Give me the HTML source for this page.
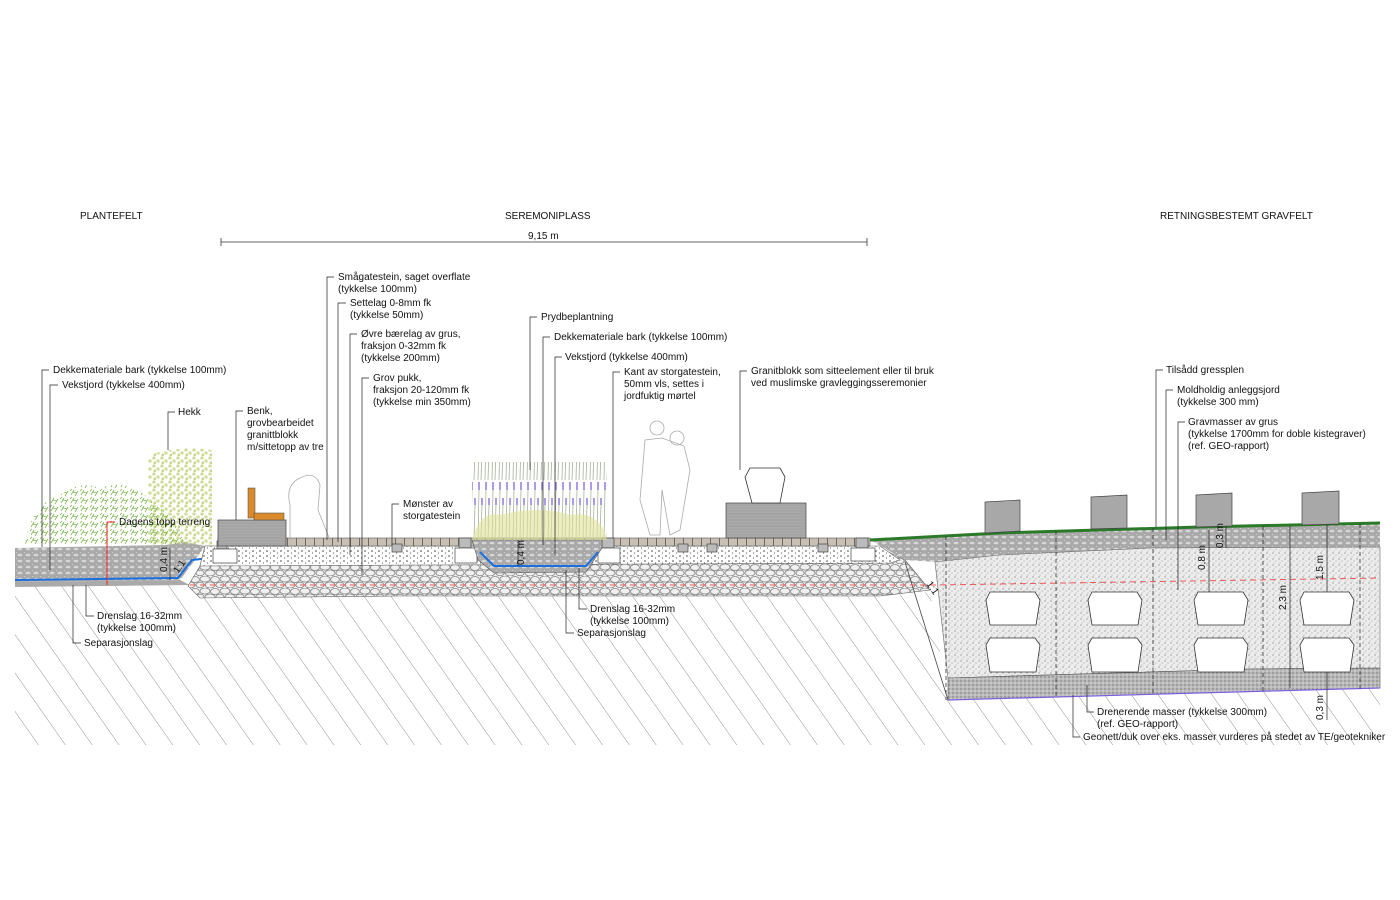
<!DOCTYPE html>
<html><head><meta charset="utf-8"><style>
html,body{margin:0;padding:0;background:#fff}
svg{display:block}
text{font-family:"Liberation Sans",Arial,sans-serif;font-size:10px;fill:#111}
</style></head><body>
<svg width="1400" height="900" viewBox="0 0 1400 900" xmlns="http://www.w3.org/2000/svg">
<defs>
<pattern id="hatch" width="22" height="22" patternUnits="userSpaceOnUse" patternTransform="rotate(-35)">
<line x1="0" y1="0" x2="0" y2="22" stroke="#777" stroke-width="0.8"/></pattern>
<pattern id="soil" width="8" height="6" patternUnits="userSpaceOnUse">
<rect width="8" height="6" fill="#a9a9a9"/><ellipse cx="4" cy="3" rx="2.5" ry="1.3" fill="#d6d6d6"/><circle cx="0" cy="0" r="1" fill="#ddd"/></pattern>
<pattern id="stip" width="6" height="6" patternUnits="userSpaceOnUse">
<rect width="6" height="6" fill="#ececec"/><circle cx="1" cy="1" r=".6" fill="#777"/><circle cx="4" cy="3" r=".5" fill="#888"/><circle cx="2" cy="5" r=".5" fill="#999"/></pattern>
<pattern id="grav" width="7" height="5" patternUnits="userSpaceOnUse">
<rect width="7" height="5" fill="#fff"/><circle cx="1" cy="1" r=".8" fill="#444"/><circle cx="4.5" cy="3" r=".6" fill="#666"/></pattern>
<pattern id="cob" width="20" height="12" patternUnits="userSpaceOnUse">
<rect width="20" height="12" fill="#f0f0f0"/><ellipse cx="5" cy="3" rx="5" ry="3" fill="none" stroke="#888" stroke-width=".8"/><ellipse cx="15" cy="3.5" rx="4.5" ry="3" fill="none" stroke="#888" stroke-width=".8"/><ellipse cx="10" cy="9" rx="5" ry="3" fill="none" stroke="#888" stroke-width=".8"/><ellipse cx="0" cy="9" rx="4" ry="2.8" fill="none" stroke="#888" stroke-width=".8"/><ellipse cx="20" cy="9" rx="4" ry="2.8" fill="none" stroke="#888" stroke-width=".8"/></pattern>
<pattern id="drain" width="4" height="4" patternUnits="userSpaceOnUse">
<rect width="4" height="4" fill="#b8b8b8"/><circle cx="1" cy="1" r=".7" fill="#777"/><circle cx="3" cy="3" r=".6" fill="#eee"/></pattern>
<pattern id="pave" width="9" height="8" patternUnits="userSpaceOnUse">
<rect width="9" height="8" fill="#c9c0b4"/><line x1="8.5" y1="0" x2="8.5" y2="8" stroke="#555" stroke-width=".8"/></pattern>
<pattern id="granite" width="6" height="3" patternUnits="userSpaceOnUse">
<rect width="6" height="3" fill="#aaa"/><line x1="0" y1="1" x2="6" y2="1" stroke="#999" stroke-width=".6"/></pattern>
<pattern id="leaf" width="10" height="8" patternUnits="userSpaceOnUse">
<path d="M1 7 L4 2 M5 8 L8 3 M3 4 L7 5 M0 3 L2 1" stroke="#7db84f" stroke-width=".8" fill="none"/></pattern>
<pattern id="hedge" width="8" height="8" patternUnits="userSpaceOnUse">
<path d="M1 1 h2 v2 h-2z M5 4 h2 v2 h-2z M2 6 h1.5 v1.5 h-1.5z" stroke="#9fb530" stroke-width=".6" fill="none"/></pattern>
<pattern id="lav" width="7" height="60" patternUnits="userSpaceOnUse">
<path d="M2 60 L3 10 M5 60 L6 25" stroke="#9aa58a" stroke-width=".7" fill="none"/>
<path d="M3 10 L3 2 M6 25 L6 18" stroke="#8a6fe0" stroke-width="1.4"/></pattern>
</defs>

<!-- titles -->
<text x="80" y="219">PLANTEFELT</text>
<text x="505" y="219">SEREMONIPLASS</text>
<text x="1160" y="219">RETNINGSBESTEMT GRAVFELT</text>
<line x1="221" y1="242" x2="867" y2="242" stroke="#333" stroke-width=".8"/>
<line x1="221" y1="238" x2="221" y2="246" stroke="#333" stroke-width=".8"/>
<line x1="867" y1="238" x2="867" y2="246" stroke="#333" stroke-width=".8"/>
<text x="528" y="239">9,15 m</text>

<!-- hatched ground -->
<path d="M15 585 L180 585 L195 598 L400 596 L880 596 L930 592 L948 700 L1380 688 L1380 745 L15 745 Z" fill="url(#hatch)"/>

<!-- left bark/soil -->
<path d="M15 548 L165 545 L185 542 L205 546 L195 560 L180 580 L15 582 Z" fill="url(#soil)"/>
<path d="M15 582 L180 580 L190 585 L15 587 Z" fill="#aaa"/>
<path d="M15 580 L178 578 L192 560 L210 558" fill="none" stroke="#1a6fe0" stroke-width="2"/>
<!-- center stone layer -->
<path d="M205 546 L215 546 L215 548 L880 548 L905 560 L930 590 L880 596 L400 596 L200 598 L188 586 L200 566 Z" fill="url(#cob)" stroke="#666" stroke-width=".6"/>
<path d="M205 546 L880 546 L900 560 L890 563 L200 566 Z" fill="url(#grav)" stroke="#666" stroke-width=".6"/>
<!-- paving -->
<rect x="218" y="538" width="652" height="8" fill="url(#pave)" stroke="#555" stroke-width=".6"/>
<!-- curb stones -->
<g fill="#bbb" stroke="#444" stroke-width=".7">
<rect x="217" y="541" width="10" height="8"/><rect x="459" y="538" width="12" height="10"/><rect x="602" y="538" width="12" height="10"/><rect x="856" y="538" width="12" height="10"/>
<rect x="392" y="544" width="10" height="8"/><rect x="678" y="544" width="10" height="8"/><rect x="707" y="544" width="10" height="8"/><rect x="818" y="544" width="10" height="8"/>
</g>
<g fill="#fff" stroke="#444" stroke-width=".7">
<rect x="213" y="549" width="24" height="14"/><rect x="455" y="548" width="22" height="15"/><rect x="598" y="548" width="22" height="15"/><rect x="851" y="548" width="24" height="13"/>
</g>
<!-- planting bed -->
<path d="M472 540 L602 540 L602 548 L586 572 L494 573 L478 560 Z" fill="url(#soil)" stroke="#555" stroke-width=".6"/>
<path d="M480 552 L494 566 L586 566 L598 552" fill="none" stroke="#1a6fe0" stroke-width="2"/>

<!-- right grave field -->
<path d="M870 540 L1000 533 L1200 527 L1380 523 L1380 547 L1150 548 L1000 555 L935 562 L905 560 Z" fill="url(#soil)"/>
<path d="M870 540 L1000 533 L1200 527 L1380 523" fill="none" stroke="#2a7a2a" stroke-width="3"/>
<path d="M935 562 L1000 555 L1150 548 L1380 547 L1380 668 L1250 669 L948 678 Z" fill="url(#stip)" stroke="#666" stroke-width=".6"/>
<path d="M948 678 L1250 669 L1380 668 L1380 688 L948 700 Z" fill="url(#drain)" stroke="#555" stroke-width=".6"/>
<line x1="948" y1="700" x2="1380" y2="688" stroke="#7b5fe0" stroke-width="1.2"/>
<line x1="905" y1="562" x2="948" y2="700" stroke="#444" stroke-width=".8"/>
<!-- red dashed -->
<path d="M190 585 L935 585 L1380 578" fill="none" stroke="#e55" stroke-width="1" stroke-dasharray="6,4"/>
<!-- dashed verticals -->
<g stroke="#333" stroke-width=".8" stroke-dasharray="4,3">
<line x1="946" y1="536" x2="946" y2="700"/><line x1="1056" y1="531" x2="1056" y2="697"/><line x1="1153" y1="528" x2="1153" y2="694"/><line x1="1263" y1="526" x2="1263" y2="691"/><line x1="1360" y1="524" x2="1360" y2="689"/>
</g>
<!-- coffins -->
<g fill="#fff" stroke="#333" stroke-width=".8">
<path d="M990 592 L1035 592 L1040 600 L1036 625 L990 625 L986 600 Z"/><path d="M1092 592 L1137 592 L1142 600 L1138 625 L1092 625 L1088 600 Z"/><path d="M1198 592 L1243 592 L1248 600 L1244 625 L1198 625 L1194 600 Z"/><path d="M1304 592 L1349 592 L1354 600 L1350 625 L1304 625 L1300 600 Z"/>
<path d="M990 638 L1035 638 L1040 645 L1036 672 L990 672 L986 645 Z"/><path d="M1092 638 L1137 638 L1142 645 L1138 672 L1092 672 L1088 645 Z"/><path d="M1198 638 L1243 638 L1248 645 L1244 672 L1198 672 L1194 645 Z"/><path d="M1304 638 L1349 638 L1354 645 L1350 672 L1304 672 L1300 645 Z"/>
</g>
<!-- gravestones -->
<g fill="#a8a8a8" stroke="#444" stroke-width=".7">
<path d="M985 502 L1020 500 L1020 531 L985 533 Z"/><path d="M1091 497 L1127 495 L1127 528 L1091 529 Z"/><path d="M1196 495 L1232 493 L1232 526 L1196 527 Z"/><path d="M1302 493 L1339 491 L1339 524 L1302 525 Z"/>
</g>

<!-- plants -->
<path d="M25 545 Q30 505 60 495 Q80 480 100 488 Q130 478 150 500 Q175 515 185 545 Z" fill="url(#leaf)"/>
<path d="M148 545 L148 455 Q180 445 212 450 L212 545 Z" fill="url(#hedge)"/>
<rect x="472" y="462" width="135" height="78" fill="url(#lav)"/>
<path d="M472 540 Q480 510 500 515 Q540 505 570 515 Q600 510 607 540 Z" fill="#dfe39a" opacity=".6"/>
<!-- bench -->
<rect x="218" y="520" width="68" height="26" fill="url(#granite)" stroke="#444" stroke-width=".7"/>
<rect x="248" y="488" width="7" height="30" fill="#d98b2b" stroke="#444" stroke-width=".5"/>
<rect x="254" y="513" width="30" height="7" fill="#d98b2b" stroke="#444" stroke-width=".5"/>
<!-- figures (outline) -->
<g fill="none" stroke="#aaa" stroke-width=".8">
<path d="M290 540 L290 505 Q285 485 300 478 Q315 470 320 485 L318 510 L330 540"/>
<circle cx="657" cy="428" r="7"/><circle cx="677" cy="438" r="7"/>
<path d="M645 440 L640 500 L650 535 L660 535 L662 490 L670 535 L680 530 L690 470 L684 446 L662 438 Z"/>
</g>
<!-- granite block with coffin -->
<rect x="726" y="503" width="80" height="35" fill="url(#granite)" stroke="#444" stroke-width=".7"/>
<path d="M750 468 L780 468 L785 477 L780 503 L752 503 L745 477 Z" fill="#fff" stroke="#333" stroke-width=".8"/>

<!-- leaders -->
<g stroke="#222" stroke-width=".7" fill="none">
<path d="M49 370 L42 370 L42 547"/><path d="M58 385 L50 385 L50 570"/>
<path d="M175 412 L168 412 L168 450"/><path d="M243 411 L236 411 L236 520"/>
<path d="M334 277 L327 277 L327 540"/><path d="M346 303 L338 303 L338 542"/>
<path d="M357 334 L350 334 L350 555"/><path d="M369 378 L362 378 L362 575"/>
<path d="M399 504 L392 504 L392 545"/>
<path d="M537 317 L530 317 L530 470"/><path d="M550 337 L543 337 L543 545"/><path d="M562 357 L555 357 L555 556"/>
<path d="M620 372 L613 372 L613 538"/><path d="M747 371 L740 371 L740 470"/>
<path d="M1163 370 L1156 370 L1156 527"/><path d="M1173 390 L1166 390 L1166 540"/><path d="M1185 422 L1178 422 L1178 590"/>
<path d="M86 585 L86 616 L94 616"/><path d="M73 585 L73 643 L81 643"/>
<path d="M579 568 L579 609 L587 609"/><path d="M566 570 L566 633 L574 633"/>
<path d="M1087 685 L1087 712 L1094 712"/><path d="M1073 695 L1073 737 L1080 737"/>
<line x1="170" y1="548" x2="170" y2="580"/><line x1="518" y1="540" x2="518" y2="566"/>
<line x1="1209" y1="530" x2="1209" y2="592"/><line x1="1226" y1="527" x2="1226" y2="548"/>
<line x1="1290" y1="526" x2="1290" y2="688"/><line x1="1327" y1="525" x2="1327" y2="592"/>
<line x1="1327" y1="672" x2="1327" y2="720"/>
</g>
<path d="M107 522 L107 585 M107 522 L115 522" stroke="#e22" stroke-width="1" fill="none"/>

<!-- labels -->
<text x="53" y="373">Dekkemateriale bark (tykkelse 100mm)</text>
<text x="62" y="388">Vekstjord (tykkelse 400mm)</text>
<text x="178" y="415">Hekk</text>
<text x="247" y="414">Benk,</text><text x="247" y="426">grovbearbeidet</text><text x="247" y="438">granittblokk</text><text x="247" y="450">m/sittetopp av tre</text>
<text x="338" y="280">Smågatestein, saget overflate</text><text x="338" y="292">(tykkelse 100mm)</text>
<text x="350" y="306">Settelag 0-8mm fk</text><text x="350" y="318">(tykkelse 50mm)</text>
<text x="361" y="337">Øvre bærelag av grus,</text><text x="361" y="349">fraksjon 0-32mm fk</text><text x="361" y="361">(tykkelse 200mm)</text>
<text x="373" y="381">Grov pukk,</text><text x="373" y="393">fraksjon 20-120mm fk</text><text x="373" y="405">(tykkelse min 350mm)</text>
<text x="403" y="507">Mønster av</text><text x="403" y="519">storgatestein</text>
<text x="541" y="320">Prydbeplantning</text>
<text x="554" y="340">Dekkemateriale bark (tykkelse 100mm)</text>
<text x="565" y="360">Vekstjord (tykkelse 400mm)</text>
<text x="624" y="375">Kant av storgatestein,</text><text x="624" y="387">50mm vls, settes i</text><text x="624" y="399">jordfuktig mørtel</text>
<text x="751" y="374">Granitblokk som sitteelement eller til bruk</text><text x="751" y="386">ved muslimske gravleggingsseremonier</text>
<text x="1166" y="373">Tilsådd gressplen</text>
<text x="1177" y="393">Moldholdig anleggsjord</text><text x="1177" y="405">(tykkelse 300 mm)</text>
<text x="1188" y="425">Gravmasser av grus</text><text x="1188" y="437">(tykkelse 1700mm for doble kistegraver)</text><text x="1188" y="449">(ref. GEO-rapport)</text>
<text x="119" y="525">Dagens topp terreng</text>
<text x="97" y="619">Drenslag 16-32mm</text><text x="97" y="631">(tykkelse 100mm)</text>
<text x="84" y="646">Separasjonslag</text>
<text x="590" y="612">Drenslag 16-32mm</text><text x="590" y="624">(tykkelse 100mm)</text>
<text x="577" y="636">Separasjonslag</text>
<text x="1097" y="715">Drenerende masser (tykkelse 300mm)</text><text x="1097" y="727">(ref. GEO-rapport)</text>
<text x="1083" y="740">Geonett/duk over eks. masser vurderes på stedet av TE/geotekniker</text>
<g style="font-size:9px">
<text transform="translate(167,572) rotate(-90)">0,4 m</text>
<text transform="translate(524,565) rotate(-90)">0,4 m</text>
<text transform="translate(1205,570) rotate(-90)">0,8 m</text>
<text transform="translate(1223,548) rotate(-90)">0,3 m</text>
<text transform="translate(1286,610) rotate(-90)">2,3 m</text>
<text transform="translate(1323,580) rotate(-90)">1,5 m</text>
<text transform="translate(1323,720) rotate(-90)">0,3 m</text>
<text transform="translate(178,574) rotate(-55)">1:1</text>
<text transform="translate(926,584) rotate(55)">1:1</text>
</g>
</svg>
</body></html>
